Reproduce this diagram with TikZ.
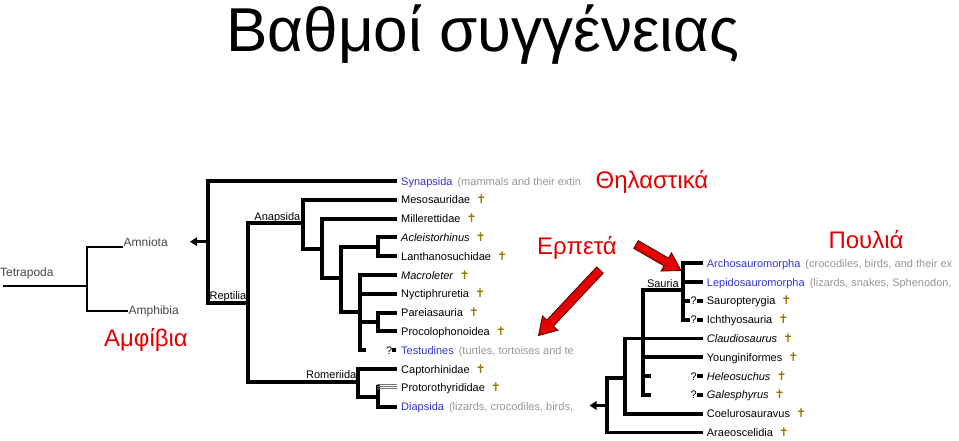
\documentclass[tikz,border=0pt]{standalone}
\usepackage{fontspec}
\setmainfont{Liberation Sans}
\newfontfamily\symfont{DejaVu Sans}
\usetikzlibrary{arrows.meta,calc}
\definecolor{bluelbl}{RGB}{51,51,204}
\definecolor{graylbl}{RGB}{150,150,150}
\definecolor{redlbl}{RGB}{228,0,0}
\definecolor{dagcol}{RGB}{150,120,0}
\definecolor{leftgray}{RGB}{70,70,70}
\newcommand{\mydag}{\hspace{6pt}{\symfont\fontsize{12}{13}\selectfont\color{dagcol}✝}}
\newcommand{\blu}[1]{{\color{bluelbl}#1}}
\newcommand{\gry}[1]{\hspace{5pt}{\color{graylbl}#1}}
\begin{document}
\begin{tikzpicture}[x=1pt,y=-1pt,
  tree/.style={line width=3.9pt},
  thintree/.style={line width=1.8pt},
  row/.style={anchor=base west, inner sep=0pt, font=\fontsize{11}{13}\selectfont},
  clade/.style={anchor=base east, inner sep=0pt, font=\fontsize{11}{13}\selectfont},
  lefttxt/.style={anchor=base west, inner sep=0pt, font=\fontsize{12}{14}\selectfont, text=leftgray},
  redtxt/.style={inner sep=0pt, font=\fontsize{24}{28}\selectfont, text=redlbl},
  qsq/.style={fill=black, inner sep=0pt, minimum width=4.5pt, minimum height=3.6pt},
  qsqr/.style={fill=black, inner sep=0pt, minimum width=6pt, minimum height=3.6pt},
  blockarrow/.style={fill=redlbl, draw=black!70!red, line width=0.8pt, line join=miter},
  smallhead/.style={line width=3pt, -{Triangle[length=7pt,width=8.5pt]}}
]
\useasboundingbox (0,0) rectangle (959,440);

% Title
\node[anchor=base, inner sep=0pt, font=\fontsize{62}{70}\selectfont] (title) at (483,51.5) {Βαθμοί συγγένειας};

% ---------------- left tree ----------------
\coordinate (tetraroot) at (3,285.7);
\coordinate (tetra) at (87,285.7);
\coordinate (amnend) at (122.7,246.7);
\coordinate (amphend) at (128,310.7);
\draw[thintree] (tetraroot) -- (tetra);
\draw[thintree] (tetra) |- (amnend);
\draw[thintree] (tetra) |- (amphend);
\node[lefttxt] (ltetra) at (0,276) {Tetrapoda};
\node[lefttxt] (lamn) at (123.5,246.5) {Amniota};
\node[lefttxt] (lamph) at (128.5,314.5) {Amphibia};
\node[redtxt] (amfibia) at (146,340) {Αμφίβια};

% ---------------- middle tree ----------------
\coordinate (mroot) at (207.7,241.7);
\coordinate (mtip) at (190,241.7);
\coordinate (rept) at (248.3,302.7);
\coordinate (anap) at (302.7,223.3);
\coordinate (rom) at (358.3,382.3);
\coordinate (n1) at (321.7,249.3);
\coordinate (n2) at (340.7,277.7);
\coordinate (n3) at (378.3,246.8);
\coordinate (n4) at (360,311.7);
\coordinate (n5) at (378.3,322);
\coordinate (n6) at (378.3,397.2);
% leaf ends
\coordinate (e0) at (396.5,181);
\coordinate (e1) at (396.5,199.8);
\coordinate (e2) at (396.5,218.6);
\coordinate (e3) at (396.5,237.4);
\coordinate (e4) at (396.5,256.2);
\coordinate (e5) at (396.5,275);
\coordinate (e6) at (396.5,293.8);
\coordinate (e7) at (396.5,312.6);
\coordinate (e8) at (396.5,331.4);
\coordinate (e9) at (365.8,350.2);
\coordinate (e10) at (396.5,369);
\coordinate (e11) at (378.3,385);
\coordinate (e12) at (396.5,406.6);

\draw[smallhead] (mroot) -- (mtip);
\draw[tree] (mroot) |- (e0);
\draw[tree] (mroot) |- (rept);
\draw[tree] (rept) |- (anap);
\draw[tree] (rept) |- (rom);
\draw[tree] (anap) |- (e1);
\draw[tree] (anap) |- (n1);
\draw[tree] (n1) |- (e2);
\draw[tree] (n1) |- (n2);
\draw[tree] (n2) |- (n3);
\draw[tree] (n2) |- (n4);
\draw[tree] (n3) |- (e3);
\draw[tree] (n3) |- (e4);
\draw[tree] (n4) |- (e5);
\draw[tree] (n4) |- (e6);
\draw[tree] (n4) |- (n5);
\draw[tree] (n4) |- (e9);
\draw[tree] (n5) |- (e7);
\draw[tree] (n5) |- (e8);
\draw[tree] (rom) |- (e10);
\draw[tree] (rom) |- (n6);
\draw[tree] (n6) |- (e12);
\draw[tree] (n6) -- (e11);
\foreach \yy in {384.6,386.6,388.6}
  \draw[line width=0.8pt, black!55] (377,\yy) -- (397,\yy);

\node[clade] (lrept) at (246.5,299.5) {Reptilia};
\node[clade] (lanap) at (300.5,220) {Anapsida};
\node[clade] (lrom) at (356.5,378.5) {Romeriida};

\node[row] (t0) at (401,185) {\blu{Synapsida}\gry{(mammals and their extin}};
\node[row] (t1) at (401,203.8) {Mesosauridae\mydag};
\node[row] (t2) at (401,222.6) {Millerettidae\mydag};
\node[row] (t3) at (401,241.4) {\textit{Acleistorhinus}\mydag};
\node[row] (t4) at (401,260.2) {Lanthanosuchidae\mydag};
\node[row] (t5) at (401,279) {\textit{Macroleter}\mydag};
\node[row] (t6) at (401,297.8) {Nyctiphruretia\mydag};
\node[row] (t7) at (401,316.6) {Pareiasauria\mydag};
\node[row] (t8) at (401,335.4) {Procolophonoidea\mydag};
\node[row] (q9) at (385.8,354.2) {?};
\node[qsq] (s9) at (393.8,350.2) {};
\node[row] (t9) at (401,354.2) {\blu{Testudines}\gry{(turtles, tortoises and te}};
\node[row] (t10) at (401,373) {Captorhinidae\mydag};
\node[row] (t11) at (401,391.8) {Protorothyrididae\mydag};
\node[row] (t12) at (401,410.6) {\blu{Diapsida}\gry{(lizards, crocodiles, birds,}};

% ---------------- right tree ----------------
\coordinate (rroot) at (606.7,405.5);
\coordinate (rtip) at (589.5,405.5);
\coordinate (r1) at (625,378.3);
\coordinate (r2) at (643.3,338.5);
\coordinate (sau) at (682.7,290);
\coordinate (f0) at (703.3,263.3);
\coordinate (f1) at (703.3,282.1);
\coordinate (f2) at (689.5,300.9);
\coordinate (f3) at (689.5,319.7);
\coordinate (f4) at (703.3,338.5);
\coordinate (f5) at (703.3,357.3);
\coordinate (f6) at (650.5,376.1);
\coordinate (f7) at (650.5,394.9);
\coordinate (f8) at (703.3,413.7);
\coordinate (f9) at (703.3,432.5);

\draw[smallhead] (rroot) -- (rtip);
\draw[tree] (rroot) |- (r1);
\draw[tree] (rroot) |- (f9);
\draw[tree] (r1) |- (r2);
\draw[tree] (r1) |- (f8);
\draw[tree] (r2) |- (sau);
\draw[tree] (r2) -- (f4);
\draw[tree] (r2) |- (f5);
\draw[tree] (r2) |- (f6);
\draw[tree] (r2) |- (f7);
\draw[tree] (sau) |- (f0);
\draw[tree] (sau) |- (f1);
\draw[tree] (sau) |- (f2);
\draw[tree] (sau) |- (f3);

\node[clade] (lsau) at (679,287.5) {Sauria};

\node[row] (u0) at (706.7,267.3) {\blu{Archosauromorpha}\gry{(crocodiles, birds, and their ex}};
\node[row] (u1) at (706.7,286.1) {\blu{Lepidosauromorpha}\gry{(lizards, snakes, Sphenodon,}};
\node[row] (q2) at (690.3,304.9) {?};
\node[qsqr] (s2) at (700,300.9) {};
\node[row] (u2) at (706.7,304.9) {Sauropterygia\mydag};
\node[row] (q3) at (690.3,323.7) {?};
\node[qsqr] (s3) at (700,319.7) {};
\node[row] (u3) at (706.7,323.7) {Ichthyosauria\mydag};
\node[row] (u4) at (706.7,342.5) {\textit{Claudiosaurus}\mydag};
\node[row] (u5) at (706.7,361.3) {Younginiformes\mydag};
\node[row] (q6) at (690.3,380.1) {?};
\node[qsqr] (s6) at (700,376.1) {};
\node[row] (u6) at (706.7,380.1) {\textit{Heleosuchus}\mydag};
\node[row] (q7) at (690.3,398.9) {?};
\node[qsqr] (s7) at (700,394.9) {};
\node[row] (u7) at (706.7,398.9) {\textit{Galesphyrus}\mydag};
\node[row] (u8) at (706.7,417.7) {Coelurosauravus\mydag};
\node[row] (u9) at (706.7,436.5) {Araeoscelidia\mydag};

% ---------------- red labels and arrows ----------------
\node[redtxt] (thil) at (652,182) {Θηλαστικά};
\node[redtxt] (erp) at (577,248) {Ερπετά};
\node[redtxt] (poul) at (866,240) {Πουλιά};

\coordinate (a1) at (636,244.5);
\coordinate (b1) at (681,270.5);
\coordinate (h1) at ($(b1)!17pt!(a1)$);
\filldraw[blockarrow] ($(a1)!4.5pt!90:(b1)$) -- ($(h1)!4.5pt!90:(b1)$) -- ($(h1)!10.5pt!90:(b1)$) -- (b1) -- ($(h1)!10.5pt!-90:(b1)$) -- ($(h1)!4.5pt!-90:(b1)$) -- ($(a1)!4.5pt!-90:(b1)$) -- cycle;

\coordinate (a2) at (600,270);
\coordinate (b2) at (538.5,335.5);
\coordinate (h2) at ($(b2)!17pt!(a2)$);
\filldraw[blockarrow] ($(a2)!4.5pt!90:(b2)$) -- ($(h2)!4.5pt!90:(b2)$) -- ($(h2)!10.5pt!90:(b2)$) -- (b2) -- ($(h2)!10.5pt!-90:(b2)$) -- ($(h2)!4.5pt!-90:(b2)$) -- ($(a2)!4.5pt!-90:(b2)$) -- cycle;

\end{tikzpicture}
\end{document}
